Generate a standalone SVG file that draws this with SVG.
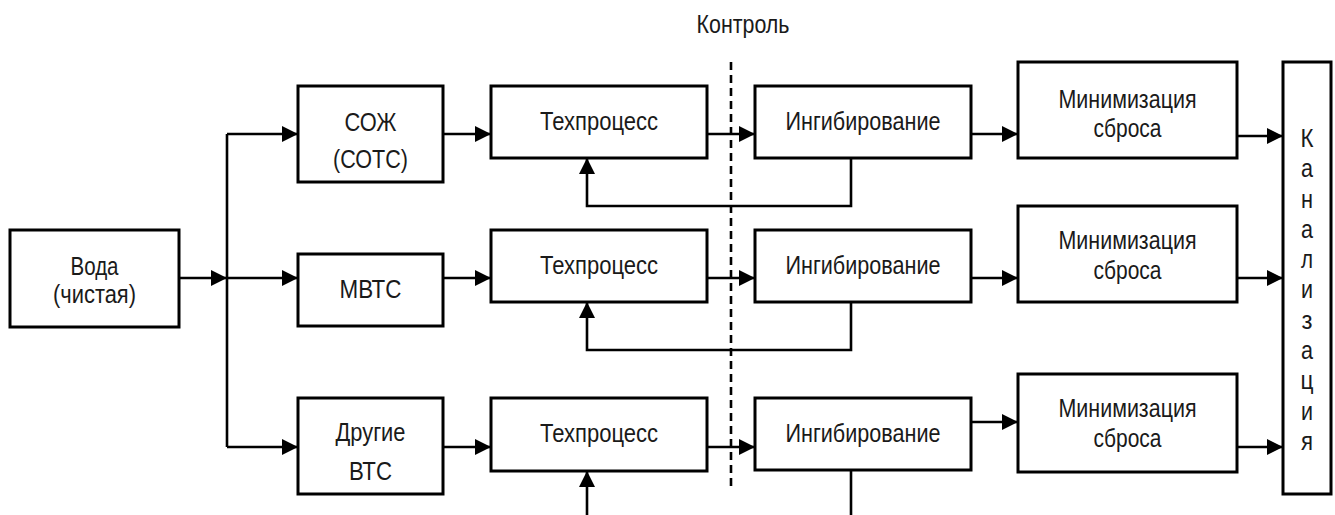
<svg xmlns="http://www.w3.org/2000/svg" width="1335" height="515" viewBox="0 0 1335 515">
<defs>
<marker id="arr" markerUnits="userSpaceOnUse" markerWidth="16" markerHeight="16" refX="16" refY="8" orient="auto">
<path d="M0,0 L16,8 L0,16 z" fill="#000"/>
</marker>
<style>
rect.n{fill:#fff;stroke:#000;stroke-width:3}
text{font-family:"Liberation Sans",Arial,sans-serif;font-size:25px;fill:#1a1a1a;text-anchor:middle}
.c path,.c line{fill:none;stroke:#000;stroke-width:2.6}
.c .a{marker-end:url(#arr)}
</style>
</defs>
<rect width="1335" height="515" fill="#fff"/>
<g id="control">
<text x="743" y="33" textLength="93" lengthAdjust="spacingAndGlyphs">Контроль</text>
<line x1="731" y1="62" x2="731" y2="490" stroke="#000" stroke-width="2.6" stroke-dasharray="8,5"/>
</g>
<g class="c" id="connectors">
<line class="a" x1="179" y1="278" x2="227" y2="278"/>
<line x1="227" y1="134" x2="227" y2="447"/>
<line class="a" x1="227" y1="134" x2="298" y2="134"/>
<line class="a" x1="227" y1="278" x2="298" y2="278"/>
<line class="a" x1="227" y1="447" x2="298" y2="447"/>
<line class="a" x1="443" y1="134" x2="491" y2="134"/>
<line class="a" x1="443" y1="278" x2="491" y2="278"/>
<line class="a" x1="443" y1="447" x2="491" y2="447"/>
<line class="a" x1="707" y1="134" x2="755" y2="134"/>
<line class="a" x1="707" y1="278" x2="755" y2="278"/>
<line class="a" x1="707" y1="447" x2="755" y2="447"/>
<line class="a" x1="971" y1="134" x2="1018" y2="134"/>
<line class="a" x1="971" y1="278" x2="1018" y2="278"/>
<line class="a" x1="971" y1="422" x2="1018" y2="422"/>
<line class="a" x1="1237" y1="136" x2="1283" y2="136"/>
<line class="a" x1="1237" y1="278" x2="1283" y2="278"/>
<line class="a" x1="1237" y1="447" x2="1283" y2="447"/>
<path class="a" d="M851,158 V206 H587 V158"/>
<path class="a" d="M851,302 V350 H587 V302"/>
<path d="M851,470 V520"/>
<path class="a" d="M587,520 V471"/>
</g>
<g id="voda"><rect class="n" x="10" y="230" width="169" height="97"/>
<text x="94.5" y="275" textLength="48" lengthAdjust="spacingAndGlyphs">Вода</text>
<text x="94.5" y="303" textLength="83" lengthAdjust="spacingAndGlyphs">(чистая)</text></g>
<g id="soj"><rect class="n" x="298" y="86" width="145" height="96"/>
<text x="370.5" y="131" textLength="52" lengthAdjust="spacingAndGlyphs">СОЖ</text>
<text x="370.5" y="168" textLength="75" lengthAdjust="spacingAndGlyphs">(СОТС)</text></g>
<g id="mvts"><rect class="n" x="298" y="254" width="145" height="72"/>
<text x="370.5" y="298" textLength="62" lengthAdjust="spacingAndGlyphs">МВТС</text></g>
<g id="drugie"><rect class="n" x="298" y="398" width="145" height="96"/>
<text x="370.5" y="441" textLength="70" lengthAdjust="spacingAndGlyphs">Другие</text>
<text x="370.5" y="480" textLength="43" lengthAdjust="spacingAndGlyphs">ВТС</text></g>
<g id="tech1"><rect class="n" x="491" y="86" width="216" height="72"/>
<text x="599" y="130" textLength="118" lengthAdjust="spacingAndGlyphs">Техпроцесс</text></g>
<g id="tech2"><rect class="n" x="491" y="230" width="216" height="72"/>
<text x="599" y="274" textLength="118" lengthAdjust="spacingAndGlyphs">Техпроцесс</text></g>
<g id="tech3"><rect class="n" x="491" y="398" width="216" height="73"/>
<text x="599" y="442" textLength="118" lengthAdjust="spacingAndGlyphs">Техпроцесс</text></g>
<g id="ingib1"><rect class="n" x="755" y="86" width="216" height="72"/>
<text x="863" y="130" textLength="155" lengthAdjust="spacingAndGlyphs">Ингибирование</text></g>
<g id="ingib2"><rect class="n" x="755" y="230" width="216" height="72"/>
<text x="863" y="274" textLength="155" lengthAdjust="spacingAndGlyphs">Ингибирование</text></g>
<g id="ingib3"><rect class="n" x="755" y="398" width="216" height="72"/>
<text x="863" y="442" textLength="155" lengthAdjust="spacingAndGlyphs">Ингибирование</text></g>
<g id="min1"><rect class="n" x="1018" y="62" width="219" height="96"/>
<text x="1127.5" y="108" textLength="138" lengthAdjust="spacingAndGlyphs">Минимизация</text>
<text x="1127.5" y="137" textLength="68" lengthAdjust="spacingAndGlyphs">сброса</text></g>
<g id="min2"><rect class="n" x="1018" y="206" width="219" height="96"/>
<text x="1127.5" y="249" textLength="138" lengthAdjust="spacingAndGlyphs">Минимизация</text>
<text x="1127.5" y="279" textLength="68" lengthAdjust="spacingAndGlyphs">сброса</text></g>
<g id="min3"><rect class="n" x="1018" y="374" width="219" height="98"/>
<text x="1127.5" y="417" textLength="138" lengthAdjust="spacingAndGlyphs">Минимизация</text>
<text x="1127.5" y="447" textLength="68" lengthAdjust="spacingAndGlyphs">сброса</text></g>
<g id="kanal"><rect class="n" x="1283" y="62" width="48" height="432"/>
<text x="1307" y="147" textLength="13" lengthAdjust="spacingAndGlyphs">К</text>
<text x="1307" y="177" textLength="12" lengthAdjust="spacingAndGlyphs">а</text>
<text x="1307" y="208" textLength="12" lengthAdjust="spacingAndGlyphs">н</text>
<text x="1307" y="238" textLength="12" lengthAdjust="spacingAndGlyphs">а</text>
<text x="1307" y="268" textLength="12" lengthAdjust="spacingAndGlyphs">л</text>
<text x="1307" y="298" textLength="12" lengthAdjust="spacingAndGlyphs">и</text>
<text x="1307" y="329" textLength="11" lengthAdjust="spacingAndGlyphs">з</text>
<text x="1307" y="359" textLength="12" lengthAdjust="spacingAndGlyphs">а</text>
<text x="1307" y="389" textLength="13" lengthAdjust="spacingAndGlyphs">ц</text>
<text x="1307" y="420" textLength="12" lengthAdjust="spacingAndGlyphs">и</text>
<text x="1307" y="450" textLength="12" lengthAdjust="spacingAndGlyphs">я</text>
</g>
</svg>
